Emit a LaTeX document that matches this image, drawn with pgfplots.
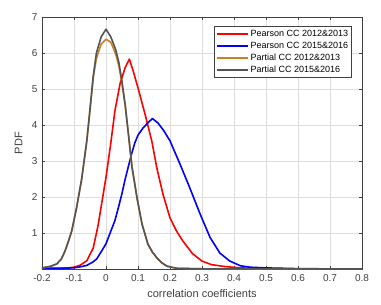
\documentclass[border=0pt]{standalone}
\usepackage{fontspec}
\setmainfont{Liberation Sans}
\usepackage{pgfplots}
\pgfplotsset{compat=1.18}
\definecolor{axgray}{gray}{0.25}
\definecolor{gridgray}{gray}{0.87}
\definecolor{porange}{rgb}{0.80,0.50,0.15}
\definecolor{pgray}{rgb}{0.33,0.33,0.33}
\begin{document}
\begin{tikzpicture}
\path[use as bounding box] (-42bp,-36bp) rectangle (339bp,269bp);
\begin{axis}[
  at={(0,0)}, anchor=south west,
  width=320bp, height=252bp, scale only axis,
  xmin=-0.2, xmax=0.8, ymin=0, ymax=7,
  xtick={-0.2,-0.1,0,0.1,0.2,0.3,0.4,0.5,0.6,0.7,0.8},
  xticklabels={-0.2,-0.1,0,0.1,0.2,0.3,0.4,0.5,0.6,0.7,0.8},
  ytick={1,2,3,4,5,6,7},
  yticklabels={1,2,3,4,5,6,7},
  grid=major,
  major grid style={gridgray, line width=0.5bp},
  axis line style={axgray, line width=0.6bp},
  tick style={axgray, line width=0.6bp},
  major tick length=3bp,
  tick align=inside,
  ticklabel style={font=\fontsize{10bp}{12bp}\selectfont, text=axgray},
  xticklabel style={yshift=-2bp},
  yticklabel style={xshift=-1bp},
  xlabel={correlation coefficients},
  ylabel={PDF},
  label style={font=\fontsize{11bp}{13bp}\selectfont, text=axgray},
  xlabel style={at={(0.5,0)}, anchor=north, yshift=-17bp},
  ylabel style={at={(0,0.5)}, anchor=south, yshift=16bp},
  legend cell align=left,
  legend image code/.code={\draw[#1] (0bp,0bp) -- (31bp,0bp);},
  legend style={at={(0.969,0.964)}, anchor=north east,
    draw=axgray, line width=0.6bp, fill=white,
    font=\fontsize{9bp}{10bp}\selectfont,
    inner xsep=2bp, inner ysep=1.5bp, row sep=0bp,
    nodes={inner sep=1.5bp, text height=7bp, text depth=2bp}},
  every axis plot/.append style={line width=1.6bp, line join=round},
]
\addplot[red] coordinates {
(-0.2,0.01) (-0.15,0.015) (-0.12,0.03) (-0.1,0.05) (-0.08,0.11) (-0.06,0.23)
(-0.04,0.58) (-0.025,1.2) (-0.012,1.9) (0.0,2.55) (0.015,3.5) (0.028,4.4)
(0.044,5.15) (0.06,5.6) (0.073,5.83) (0.085,5.5) (0.1,5.03) (0.122,4.3)
(0.143,3.56) (0.159,2.8) (0.178,2.08) (0.2,1.42) (0.22,1.06) (0.24,0.78)
(0.27,0.43) (0.3,0.22) (0.33,0.12) (0.37,0.07) (0.42,0.03) (0.5,0.01)
(0.6,0.003) (0.8,0)
};
\addlegendentry{Pearson CC 2012\&2013}
\addplot[blue] coordinates {
(-0.2,0.02) (-0.15,0.02) (-0.12,0.025) (-0.1,0.035) (-0.08,0.06) (-0.06,0.1)
(-0.04,0.2) (-0.029,0.28) (-0.015,0.48) (0.0,0.7) (0.015,1.05) (0.028,1.35)
(0.04,1.75) (0.05,2.1) (0.06,2.5) (0.07,2.85) (0.08,3.2) (0.09,3.5) (0.1,3.72)
(0.116,3.92) (0.13,4.05) (0.145,4.18) (0.162,4.06) (0.18,3.85) (0.2,3.56)
(0.215,3.25) (0.231,2.92) (0.262,2.25) (0.294,1.53) (0.325,0.88) (0.356,0.44)
(0.387,0.22) (0.42,0.09) (0.45,0.05) (0.5,0.03) (0.6,0.01) (0.7,0.003) (0.8,0)
};
\addlegendentry{Pearson CC 2015\&2016}
\addplot[porange] coordinates {
(-0.2,0.03) (-0.175,0.07) (-0.154,0.14) (-0.14,0.27) (-0.128,0.5) (-0.117,0.78)
(-0.107,1.06) (-0.092,1.7) (-0.076,2.5) (-0.06,3.56) (-0.05,4.4) (-0.04,5.3)
(-0.03,5.85) (-0.015,6.25) (0.0,6.38) (0.015,6.3) (0.03,5.98) (0.04,5.65)
(0.05,5.15) (0.06,4.55) (0.07,3.75) (0.081,2.85) (0.097,1.97) (0.1125,1.25)
(0.131,0.69) (0.145,0.47) (0.159,0.31) (0.175,0.17) (0.19,0.08) (0.22,0.02)
(0.3,0.005) (0.8,0)
};
\addlegendentry{Partial CC 2012\&2013}
\addplot[pgray] coordinates {
(-0.2,0.03) (-0.175,0.07) (-0.154,0.14) (-0.14,0.27) (-0.128,0.5) (-0.117,0.78)
(-0.107,1.06) (-0.092,1.7) (-0.076,2.5) (-0.06,3.56) (-0.05,4.45) (-0.04,5.35)
(-0.03,6.0) (-0.015,6.45) (0.0,6.66) (0.015,6.45) (0.03,6.1) (0.04,5.75)
(0.05,5.2) (0.06,4.55) (0.07,3.75) (0.081,2.85) (0.097,1.97) (0.1125,1.25)
(0.131,0.69) (0.145,0.47) (0.159,0.31) (0.175,0.17) (0.19,0.08) (0.22,0.02)
(0.3,0.005) (0.8,0)
};
\addlegendentry{Partial CC 2015\&2016}
\end{axis}
\end{tikzpicture}
\end{document}
